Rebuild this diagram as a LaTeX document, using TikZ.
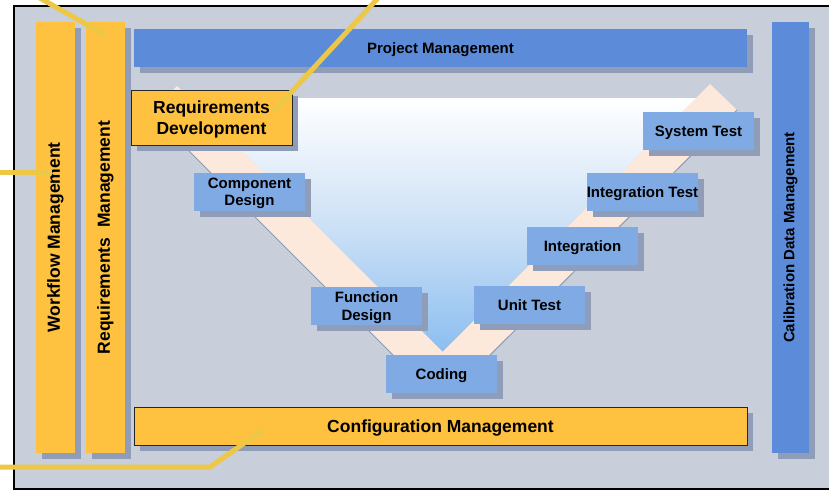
\documentclass[tikz,border=0pt]{standalone}
\usepackage{fontspec}
\setmainfont{Liberation Sans}
\usetikzlibrary{shadows}
\definecolor{bgc}{RGB}{200,206,218}
\definecolor{orng}{RGB}{255,193,64}
\definecolor{dblue}{RGB}{91,139,217}
\definecolor{lblue}{RGB}{128,170,227}
\definecolor{shc}{RGB}{143,157,184}
\definecolor{peach}{RGB}{253,233,220}
\definecolor{vbot}{RGB}{140,190,240}
\definecolor{callc}{RGB}{236,200,70}
\definecolor{edgec}{RGB}{140,155,181}
\begin{document}
\begin{tikzpicture}[x=1pt,y=-1pt,
  shad/.style={drop shadow={shadow xshift=6pt,shadow yshift=-6pt,fill=shc,opacity=1}},
  bigfont/.style={font=\fontsize{17.5}{21}\selectfont\bfseries},
  smallfont/.style={font=\fontsize{15}{17.5}\selectfont\bfseries},
  boxbase/.style={shad,inner sep=0pt,outer sep=0pt,align=center,text=black,text depth=0pt},
  stepbox/.style={boxbase,smallfont,fill=lblue,minimum width=111pt,minimum height=38pt},
  orbar/.style={boxbase,bigfont,fill=orng},
  blbar/.style={boxbase,smallfont,fill=dblue},
  framed/.style={draw=black!85,line width=1pt},
  callout/.style={draw=callc,line width=5pt},
  vedge/.style={draw=edgec,line width=1pt}
]
\useasboundingbox (0,0) rectangle (829,490);
\clip (0,0) rectangle (829,490);
% frame
\draw[fill=bgc,line width=1.8pt] (14,6) rectangle (845,489);
% V band
\fill[peach] (177,86) -- (150.5,112.5) -- (398,360) -- (485,360) -- (737,110) -- (710,84) -- (442.5,351.5) -- cycle;
\draw[vedge] (150.5,112.5) -- (398,360);
\draw[vedge] (485,360) -- (737,110);
% inner triangle
\shade[top color=white,bottom color=vbot,middle color={rgb,255:red,205;green,225;blue,246}] (189,98) -- (696,98) -- (442.5,351.5) -- cycle;
% bars
\node[orbar,minimum width=39pt,minimum height=431pt] (wf) at (55.5,237.5) {\rotatebox{90}{Workflow Management}};
\node[orbar,minimum width=39pt,minimum height=431pt] (rm) at (105.5,237.5) {\rotatebox{90}{Requirements\ \ Management}};
\node[blbar,minimum width=37pt,minimum height=431pt] (cal) at (790.5,237.5) {\rotatebox{90}{Calibration Data Management}};
\node[blbar,minimum width=613pt,minimum height=38pt] (pm) at (440.5,48) {Project Management};
\node[orbar,framed,minimum width=613pt,minimum height=38pt] (cm) at (440.5,426) {Configuration Management};
\node[orbar,framed,minimum width=161pt,minimum height=55pt] (rd) at (211.5,117.5) {Requirements\\Development};
% steps
\node[stepbox] (cd) at (249.5,192) {Component\\Design};
\node[stepbox] (fd) at (366.5,306) {Function\\Design};
\node[stepbox] (cod) at (441.5,374) {Coding};
\node[stepbox] (ut) at (529.5,305) {Unit Test};
\node[stepbox] (ig) at (582.5,246) {Integration};
\node[stepbox] (it) at (642.5,192) {Integration Test};
\node[stepbox] (st) at (698.5,131) {System Test};
% callouts
\coordinate (c1) at (38,-3);
\coordinate (c2) at (379,-3);
\coordinate (c3) at (-3,172);
\coordinate (c4) at (-3,467);
\coordinate (c4b) at (210,467);
\draw[callout] (c1) -- ([yshift=-13pt]rm.north);
\draw[callout] (c2) -- ([xshift=61.5pt,yshift=5.5pt]rd.center);
\draw[callout] (c3) -- ([xshift=-3.5pt]c3 -| wf.center);
\draw[callout] (c4) -- (c4b) -- ([xshift=-177.5pt,yshift=-4pt]cm.center);
\end{tikzpicture}
\end{document}
